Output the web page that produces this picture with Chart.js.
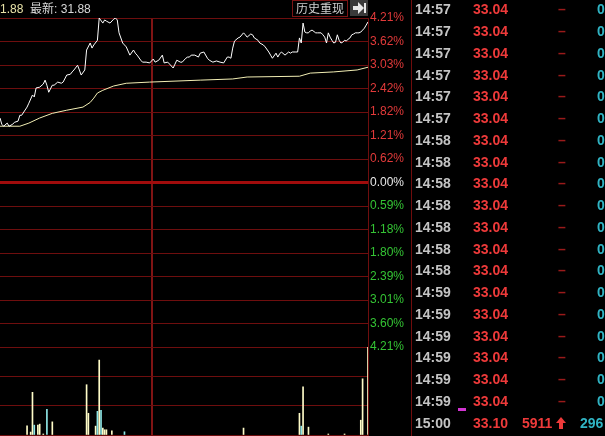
<!DOCTYPE html>
<html><head><meta charset="utf-8">
<script src="https://cdn.jsdelivr.net/npm/chart.js@4.4.1/dist/chart.umd.min.js"></script>
<style>
html,body{margin:0;padding:0;background:#000;width:605px;height:436px;overflow:hidden;}
#wrap{position:relative;width:605px;height:436px;background:#000;}
#c{position:absolute;left:0;top:0;}
.t{position:absolute;white-space:nowrap;font-family:"Liberation Sans",Arial,sans-serif;}
.cjk{font-family:"Noto Sans CJK SC",sans-serif;}
</style></head>
<body><div id="wrap">
<canvas id="c" width="410" height="436"></canvas>
<div class="t" style="left:0;top:1px;font-size:12px;line-height:14px;color:#d8d8d8;"><span style="color:#e8e2a8">1.88</span>&nbsp;&nbsp;<span class="cjk">最新</span>: 31.88</div>
<div class="t cjk" style="left:292px;top:0;width:56px;height:17px;box-sizing:border-box;border:1px solid #7a1414;color:#d0d0d0;font-size:12px;line-height:14px;text-align:center;">历史重现</div>
<div style="position:absolute;left:350px;top:0;width:18px;height:16px;background:#3a3a3a;"></div>
<div style="position:absolute;left:353px;top:6px;width:5px;height:4px;background:#e8e8e8;"></div>
<div style="position:absolute;left:358px;top:2px;width:0;height:0;border-top:6px solid transparent;border-bottom:6px solid transparent;border-left:6px solid #e8e8e8;"></div>
<div style="position:absolute;left:364px;top:3px;width:2px;height:10px;background:#e8e8e8;"></div>
<div style="position:absolute;left:411px;top:0;width:1px;height:436px;background:#700c0c;"></div>
<div id="tbl"></div>
</div>
<script>
// ---- price pane: minutes since 9:30 (afternoon continues at 120) and % change ----
const xMin = 36, xMax = 240;
const midLines = [120];
const pctMax = 4.21;
const pctLabels = ['4.21','3.62','3.03','2.42','1.82','1.21','0.62','0.00','0.59','1.18','1.80','2.39','3.01','3.60','4.21'];

const priceMin = [36,37,38,40,41,43,44,46,47,48,51,52,54,55,56,58,60,61,62,63,65,66,68,70,71,73,75,76,77,79,80,81,83,84,86,87,88,90,91,93,94,95,97,99,100,101,102,104,105,106,108,110,111,112,114,115,117,119,121,122,124,126,127,129,130,132,133,134,136,137,139,140,141,142,144,146,147,149,151,152,154,156,158,160,162,163,164,165,166,168,169,171,172,173,175,176,177,179,180,182,183,185,186,187,189,190,191,192,194,196,197,198,200,201,202,203,204,205,206,207,208,209,211,212,214,215,216,217,218,219,220,221,222,223,224,225,226,227,228,229,230,231,232,233,234,235,236,237,238,239,240];
const pricePct = [1.65,1.49,1.44,1.52,1.44,1.49,1.54,1.57,1.72,1.72,1.93,2.03,2.24,2.19,2.42,2.44,2.52,2.62,2.49,2.31,2.49,2.49,2.57,2.54,2.57,2.75,2.77,2.83,2.88,3.00,2.88,2.75,2.88,3.39,3.57,3.44,3.52,3.64,4.21,4.08,4.16,4.13,4.08,4.18,4.21,4.16,3.83,3.57,3.52,3.47,3.26,3.39,3.31,3.26,3.13,3.08,3.08,3.06,3.16,3.08,3.13,3.26,3.06,3.08,3.03,2.93,3.03,3.13,3.08,3.08,3.18,3.21,3.21,3.26,3.26,3.21,3.31,3.34,3.18,3.13,3.08,3.11,3.08,3.06,3.21,3.21,3.18,3.44,3.62,3.70,3.72,3.83,3.78,3.72,3.80,3.78,3.70,3.64,3.57,3.52,3.47,3.34,3.26,3.18,3.31,3.21,3.29,3.34,3.26,3.34,3.31,3.34,3.34,3.34,3.70,3.57,4.08,3.85,3.83,3.83,3.88,3.90,3.83,3.83,3.83,3.78,3.72,3.57,3.83,3.72,3.64,3.57,3.59,3.78,3.64,3.57,3.59,3.64,3.62,3.67,3.70,3.78,3.80,3.83,3.83,3.83,3.85,3.90,3.95,4.03,4.11];

const avgMin = [36,47,52,58,65,73,82,86,88,90,93,99,106,119,147,165,173,202,208,221,234,240];
const avgPct = [1.44,1.44,1.52,1.65,1.77,1.85,1.93,2.05,2.16,2.29,2.36,2.47,2.54,2.57,2.62,2.65,2.70,2.72,2.80,2.83,2.88,2.95];

// ---- volume pane ----
const volMax = 1500;
const volTicks = [0,500,1000,1500];
const volMin = [51,53,54,55,57,58,60,62,65,84,85,89,90,91,92,93,94,95,98,105,171,202,203,204,207,218,227,236,237,240];
const volVal = [156,50,727,168,168,185,17,437,224,857,370,151,403,1277,420,118,89,89,72,55,118,370,151,823,134,17,17,252,958,1500];
const volDir = ['u','u','u','d','u','u','u','d','u','u','u','u','d','u','d','u','u','u','u','d','u','u','d','u','u','u','u','u','u','u'];

// ---- trade list ----
const tradeTimes = ['14:57','14:57','14:57','14:57','14:57','14:57','14:58','14:58','14:58','14:58','14:58','14:58','14:58','14:59','14:59','14:59','14:59','14:59','14:59','15:00'];
const tradePrices = ['33.04','33.04','33.04','33.04','33.04','33.04','33.04','33.04','33.04','33.04','33.04','33.04','33.04','33.04','33.04','33.04','33.04','33.04','33.04','33.10'];
const tradeVols = ['–','–','–','–','–','–','–','–','–','–','–','–','–','–','–','–','–','–','–','5911'];
const tradeNums = ['0','0','0','0','0','0','0','0','0','0','0','0','0','0','0','0','0','0','0','296'];

const GRID = '#6e0e0e';
const step = pctMax / 7;

new Chart(document.getElementById('c').getContext('2d'), {
  type: 'line',
  data: {
    datasets: [
      { type:'line', data: priceMin.map((m,i)=>({x:m,y:pricePct[i]})), borderColor:'#ffffff', borderWidth:1, pointRadius:0, tension:0, yAxisID:'y' },
      { type:'line', data: avgMin.map((m,i)=>({x:m,y:avgPct[i]})), borderColor:'#f2eeb4', borderWidth:1, pointRadius:0, tension:0, yAxisID:'y' },
      { type:'bar', data: volMin.map((m,i)=>({x:m,y:volVal[i]})), backgroundColor: volDir.map(d=>d==='u'?'#fffcc8':'#8ee6e6'), borderWidth:0, barThickness:1, yAxisID:'yv' }
    ]
  },
  options: {
    responsive:false, animation:false, events:[],
    layout:{padding:{top:18,bottom:1,left:0,right:0}},
    plugins:{legend:{display:false}, tooltip:{enabled:false}},
    scales:{
      x:{ type:'linear', min:xMin, max:xMax, offset:false, position:'bottom',
          ticks:{display:false}, grid:{color:'#801414', lineWidth:2, drawTicks:false, offset:false}, border:{display:false},
          afterBuildTicks: s => { s.ticks = midLines.map(v=>({value:v})); } },
      y:{ type:'linear', position:'right', stack:'p', stackWeight:329, min:-pctMax, max:pctMax,
          afterBuildTicks: s => { const t=[]; for(let k=-7;k<=7;k++) t.push({value:k*step}); s.ticks=t; },
          ticks:{ autoSkip:false, padding:2, font:{family:'Liberation Sans', size:12},
                  color: c => { const k=Math.round(c.tick.value/step); return k>0?'#e23a3a':(k<0?'#34c434':'#e8e8e8'); },
                  callback: v => pctLabels[7-Math.round(v/step)] + '%' },
          grid:{ drawTicks:false,
                 color: c => (c.tick && Math.abs(c.tick.value)<1e-9) ? '#a00c0c' : GRID,
                 lineWidth: c => (c.tick && Math.abs(c.tick.value)<1e-9) ? 3 : 1 },
          border:{color:GRID, width:1},
          afterFit: s => { s.width=42; s.paddingTop=0; s.paddingBottom=0; } },
      yv:{ type:'linear', position:'right', stack:'p', stackWeight:88, min:0, max:volMax,
          afterBuildTicks: s => { s.ticks = volTicks.map(v=>({value:v})); },
          ticks:{display:false}, grid:{drawTicks:false, color:GRID, lineWidth:1}, border:{color:GRID, width:1},
          afterFit: s => { s.width=42; s.paddingTop=0; s.paddingBottom=0; } }
    }
  }
});

// trade list as text
const tbl = document.getElementById('tbl');
let html = '';
tradeTimes.forEach((tm,i) => {
  const top = (9.3 + i*21.75 - 8).toFixed(1);
  const st = 'top:'+top+'px;font-size:14px;line-height:16px;font-weight:bold;';
  html += '<div class="t" style="left:415px;'+st+'color:#c4c4c4;">'+tm+'</div>';
  html += '<div class="t" style="left:473px;'+st+'color:#ee3a3a;">'+tradePrices[i]+'</div>';
  if (tradeVols[i] === '–') {
    html += '<div class="t" style="left:558px;'+st+'color:#9a1a1a;">'+tradeVols[i]+'</div>';
    html += '<div class="t" style="left:597px;'+st+'color:#30b4c4;">'+tradeNums[i]+'</div>';
  } else {
    html += '<div class="t" style="left:522px;'+st+'color:#ee3a3a;">'+tradeVols[i]+'</div>';
    html += '<div class="t" style="left:580px;'+st+'color:#30b4c4;">'+tradeNums[i]+'</div>';
    const cy = 9.3 + i*21.75;
    html += '<div style="position:absolute;left:556px;top:'+(cy-6)+'px;width:0;height:0;border-left:5px solid transparent;border-right:5px solid transparent;border-bottom:6px solid #ee3a3a;"></div>';
    html += '<div style="position:absolute;left:559px;top:'+(cy)+'px;width:4px;height:6px;background:#ee3a3a;"></div>';
  }
});
html += '<div style="position:absolute;left:458px;top:408px;width:8px;height:3px;background:#d234d2;"></div>';
tbl.innerHTML = html;
</script>
</body></html>
